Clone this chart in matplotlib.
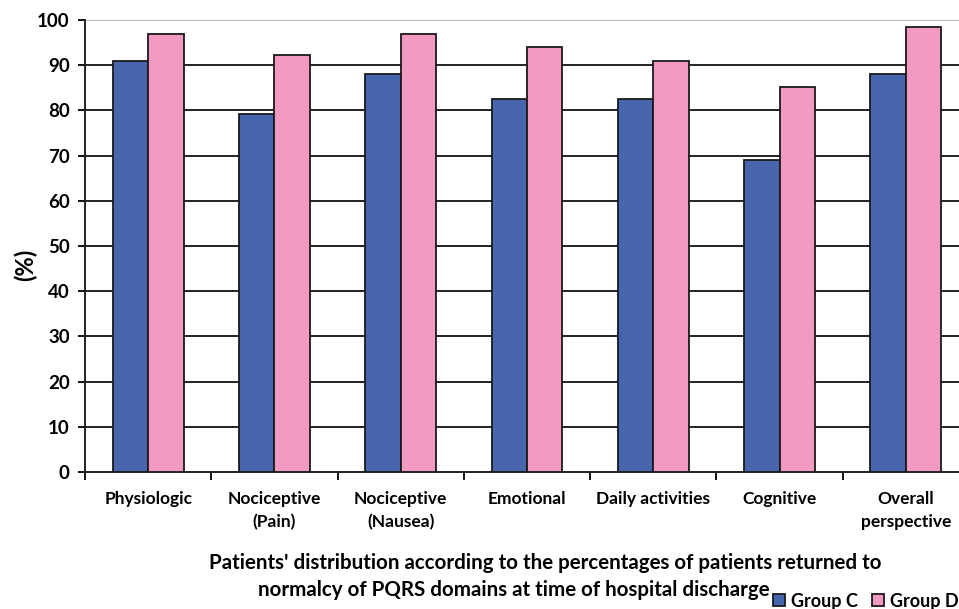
import matplotlib
matplotlib.use("Agg")
import matplotlib.pyplot as plt
import numpy as np

categories = ["Physiologic", "Nociceptive\n(Pain)", "Nociceptive\n(Nausea)", "Emotional",
              "Daily activities", "Cognitive", "Overall\nperspective"]
group_c = [91, 79.2, 88, 82.5, 82.5, 69, 88]
group_d = [97, 92.3, 97, 94, 91, 85.1, 98.5]
y_ticks = [0, 10, 20, 30, 40, 50, 60, 70, 80, 90, 100]

BLUE = "#4866AE"
PINK = "#F39AC3"
FONT = ["Lato", "DejaVu Sans"]

plt.rcParams["font.family"] = FONT
plt.rcParams["font.weight"] = "bold"

fig = plt.figure(figsize=(9.59, 6.09), dpi=100)
# axes extend slightly past the right edge of the canvas
ax = fig.add_axes([85 / 959, 1 - 472 / 609, (969 - 85) / 959, (472 - 20) / 609])

x = np.arange(len(categories))
w = 0.28
ax.bar(x - w / 2, group_c, w, color=BLUE, edgecolor="#1a1a1a", linewidth=1.3, label="Group C", zorder=3)
ax.bar(x + w / 2, group_d, w, color=PINK, edgecolor="#1a1a1a", linewidth=1.3, label="Group D", zorder=3)

ax.set_xlim(-0.5, len(categories) - 0.5)
ax.set_ylim(0, 100)
ax.set_yticks(y_ticks)
ax.set_yticklabels([str(v) for v in y_ticks], fontsize=13.5, fontweight="bold")
for v in y_ticks[1:-1]:
    ax.axhline(v, color="#222222", linewidth=1.4, zorder=1)
ax.axhline(100, color="#aaaaaa", linewidth=1.2, zorder=1)

ax.set_xticks(np.arange(-0.5, len(categories), 1.0))
ax.set_xticklabels([])
ax.set_xticks(x, minor=True)
ax.set_xticklabels(categories, minor=True, fontsize=12.5, fontweight="bold", linespacing=1.5)
ax.tick_params(axis="x", which="minor", length=0, pad=14)
ax.tick_params(axis="x", which="major", length=6, width=1.3, direction="out")
ax.tick_params(axis="y", length=5, width=1.3, direction="out", pad=6)

for s in ["top", "right"]:
    ax.spines[s].set_visible(False)
ax.spines["left"].set_linewidth(1.4)
ax.spines["bottom"].set_linewidth(1.4)
ax.spines["left"].set_color("#222222")
ax.spines["bottom"].set_color("#222222")

fig.text(25 / 959, 1 - 265 / 609, "(%)", rotation=90, ha="center", va="center",
         fontsize=17, fontweight="bold")

fig.text(545 / 959, 1 - 563 / 609,
         "Patients' distribution according to the percentages of patients returned to",
         ha="center", va="center", fontsize=14.8, fontweight="bold")
fig.text(514 / 959, 1 - 590 / 609,
         "normalcy of PQRS domains at time of hospital discharge",
         ha="center", va="center", fontsize=14.8, fontweight="bold")

fig.legend(loc="center left", bbox_to_anchor=(773 / 959, 1 - 601 / 609), ncol=2,
           frameon=False, handlelength=0.65, handleheight=0.65,
           handletextpad=0.35, columnspacing=0.8, borderaxespad=0, borderpad=0,
           prop={"weight": "bold", "size": 13})

fig.savefig("out.png", dpi=100)
